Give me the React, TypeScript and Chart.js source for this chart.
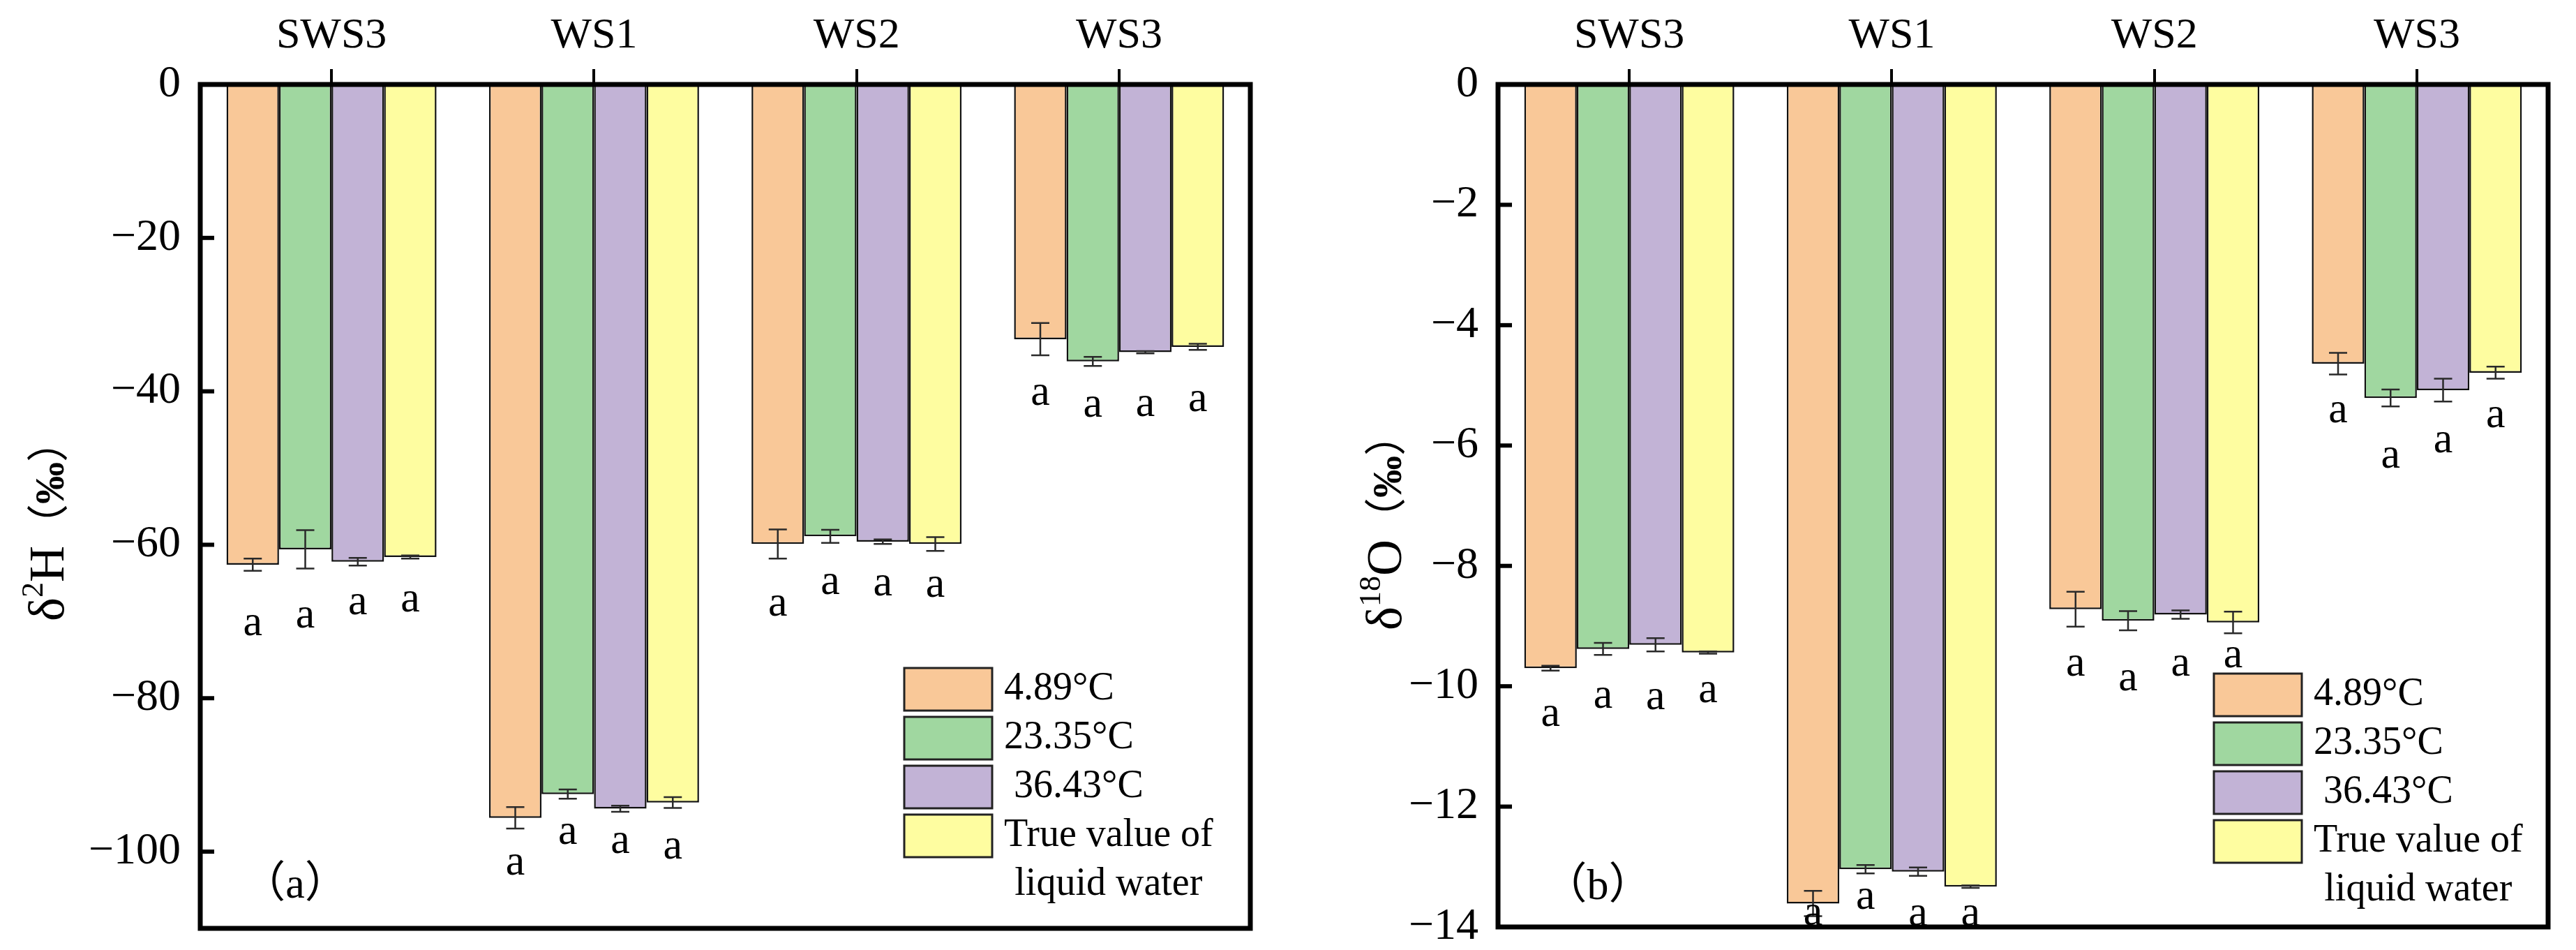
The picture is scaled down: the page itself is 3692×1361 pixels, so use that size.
import React, { useEffect, useRef } from 'react';
import { Chart, registerables } from 'chart.js';

Chart.register(...registerables);

// ---------- data ----------
const categories = ['SWS3', 'WS1', 'WS2', 'WS3'];
const seriesNames = ['4.89°C', '23.35°C', ' 36.43°C', 'True value of\nliquid water'];
const seriesColors = ['#F9C898', '#A0D7A0', '#C2B3D6', '#FEFDA0'];

// δ2H (‰)
const dH_489 = [-62.6, -95.6, -59.9, -33.2];
const dH_2335 = [-60.6, -92.5, -58.9, -36.1];
const dH_3643 = [-62.2, -94.4, -59.6, -34.9];
const dH_true = [-61.6, -93.6, -59.9, -34.2];
const eH_489 = [0.8, 1.4, 1.9, 2.1];
const eH_2335 = [2.5, 0.6, 0.85, 0.6];
const eH_3643 = [0.5, 0.4, 0.3, 0.15];
const eH_true = [0.2, 0.7, 0.9, 0.4];
const letterH_489 = [-70.5, -101.7, -68.0, -40.5];
const letterH_2335 = [-69.5, -97.7, -65.1, -42.0];
const letterH_3643 = [-67.8, -98.9, -65.3, -41.9];
const letterH_true = [-67.4, -99.6, -65.5, -41.3];
const hTickValues = [0, -20, -40, -60, -80, -100];

// δ18O (‰)
const dO_489 = [-9.7, -13.61, -8.72, -4.64];
const dO_2335 = [-9.38, -13.04, -8.91, -5.21];
const dO_3643 = [-9.31, -13.08, -8.81, -5.08];
const dO_true = [-9.44, -13.33, -8.94, -4.79];
const eO_489 = [0.04, 0.21, 0.29, 0.18];
const eO_2335 = [0.1, 0.07, 0.16, 0.14];
const eO_3643 = [0.11, 0.07, 0.07, 0.19];
const eO_true = [0.02, 0.02, 0.18, 0.1];
const letterO_489 = [-10.5, -13.8, -9.66, -5.45];
const letterO_2335 = [-10.19, -13.54, -9.91, -6.2];
const letterO_3643 = [-10.22, -13.82, -9.66, -5.95];
const letterO_true = [-10.1, -13.82, -9.52, -5.53];
const oTickValues = [0, -2, -4, -6, -8, -10, -12, -14];

const letterText = 'a';

const SERIF = '"Liberation Serif", "Times New Roman", serif';
const CJK = '"Liberation Serif", "Noto Sans CJK SC", serif';

type TitleSeg = { text: string; font: string; raise?: number };

type PanelCfg = {
  values: number[][];
  errors: number[][];
  letters: number[][];
  tickValues: number[];
  min: number;
  max: number;
  step: number;
  padding: { left: number; right: number; top: number; bottom: number };
  yWidth: number;
  title: TitleSeg[];
  titleX: number; // canvas x of baseline
  titleY: number; // canvas y of centre
  legendX: number; // from chartArea.left
  legendY: number; // from chartArea.top
  panelLabel: string;
  panelLabelX: number; // from chartArea.left
  panelLabelY: number; // from chartArea.bottom
};

function makeDecor(cfg: PanelCfg) {
  return {
    id: 'panelDecor',
    afterDatasetsDraw(chart: any) {
      const { ctx } = chart;
      const ys = chart.scales.y;
      ctx.save();
      // error bars
      cfg.errors.forEach((errs, i) => {
        const meta = chart.getDatasetMeta(i);
        meta.data.forEach((bar: any, j: number) => {
          const v = cfg.values[i][j];
          const e = errs[j];
          const y1 = ys.getPixelForValue(v - e);
          const y2 = ys.getPixelForValue(v + e);
          ctx.strokeStyle = '#2a2a2a';
          ctx.lineWidth = 2.5;
          ctx.beginPath();
          ctx.moveTo(bar.x, y1);
          ctx.lineTo(bar.x, y2);
          ctx.moveTo(bar.x - 13, y1);
          ctx.lineTo(bar.x + 13, y1);
          ctx.moveTo(bar.x - 13, y2);
          ctx.lineTo(bar.x + 13, y2);
          ctx.stroke();
        });
      });
      // significance letters
      ctx.fillStyle = '#000';
      ctx.font = `62px ${SERIF}`;
      ctx.textAlign = 'center';
      ctx.textBaseline = 'alphabetic';
      cfg.letters.forEach((lets, i) => {
        const meta = chart.getDatasetMeta(i);
        meta.data.forEach((bar: any, j: number) => {
          const y = ys.getPixelForValue(lets[j]);
          ctx.fillText(letterText, bar.x, y + 14);
        });
      });
      ctx.restore();
    },
    afterDraw(chart: any) {
      const { ctx, chartArea: a } = chart;
      const ys = chart.scales.y;
      ctx.save();
      // inward y ticks
      ctx.strokeStyle = '#000';
      ctx.lineWidth = 6;
      cfg.tickValues.forEach((t) => {
        const y = ys.getPixelForValue(t);
        ctx.beginPath();
        ctx.moveTo(a.left, y);
        ctx.lineTo(a.left + 20, y);
        ctx.stroke();
      });
      // frame
      ctx.lineWidth = 7;
      ctx.strokeRect(a.left, a.top, a.right - a.left, a.bottom - a.top);

      // legend
      const bx = a.left + cfg.legendX;
      const by = a.top + cfg.legendY;
      const bw = 126;
      const bh = 61;
      const stepY = 70;
      ctx.font = `56px ${SERIF}`;
      ctx.textBaseline = 'middle';
      seriesNames.forEach((name, i) => {
        const top = by + i * stepY;
        ctx.fillStyle = seriesColors[i];
        ctx.fillRect(bx, top, bw, bh);
        ctx.strokeStyle = '#222';
        ctx.lineWidth = 3;
        ctx.strokeRect(bx, top, bw, bh);
        ctx.fillStyle = '#000';
        const lines = name.split('\n');
        const tx = bx + bw + 17;
        const cy = top + bh / 2;
        if (lines.length === 1) {
          ctx.textAlign = 'left';
          ctx.fillText(lines[0], tx, cy);
        } else {
          const w0 = ctx.measureText(lines[0]).width;
          const cx = tx + w0 / 2;
          ctx.textAlign = 'center';
          lines.forEach((ln, k) => ctx.fillText(ln, cx, cy + k * stepY));
        }
      });

      // panel label
      ctx.font = `62px ${CJK}`;
      ctx.textAlign = 'center';
      ctx.textBaseline = 'middle';
      ctx.fillStyle = '#000';
      ctx.fillText(cfg.panelLabel, a.left + cfg.panelLabelX, a.bottom - cfg.panelLabelY);

      // rotated y title
      ctx.save();
      ctx.translate(cfg.titleX, cfg.titleY);
      ctx.rotate(-Math.PI / 2);
      ctx.textAlign = 'left';
      ctx.textBaseline = 'alphabetic';
      let total = 0;
      const widths = cfg.title.map((s) => {
        ctx.font = s.font;
        const w = ctx.measureText(s.text).width;
        total += w;
        return w;
      });
      let x = -total / 2;
      cfg.title.forEach((s, k) => {
        ctx.font = s.font;
        ctx.fillText(s.text, x, -(s.raise || 0));
        x += widths[k];
      });
      ctx.restore();

      ctx.restore();
    },
  };
}

function buildChart(canvas: HTMLCanvasElement, cfg: PanelCfg) {
  return new Chart(canvas, {
    type: 'bar',
    data: {
      labels: categories,
      datasets: cfg.values.map((vals, i) => ({
        label: seriesNames[i],
        data: vals,
        backgroundColor: seriesColors[i],
        borderColor: '#111',
        borderWidth: 2.5,
        barPercentage: 1,
        categoryPercentage: 0.8,
      })),
    },
    options: {
      animation: false,
      responsive: false,
      devicePixelRatio: 1,
      layout: { padding: cfg.padding },
      plugins: {
        legend: { display: false },
        tooltip: { enabled: false },
      },
      scales: {
        x: {
          type: 'category',
          position: 'top',
          offset: true,
          grid: {
            offset: false,
            drawOnChartArea: false,
            drawTicks: true,
            tickLength: 22,
            lineWidth: 4,
            color: '#000',
          },
          border: { display: false },
          ticks: {
            color: '#000',
            font: { family: SERIF, size: 62 },
            padding: 10,
            maxRotation: 0,
          },
          afterFit: (s: any) => {
            s.height = 121;
            s.paddingLeft = 0;
            s.paddingRight = 0;
          },
        },
        y: {
          type: 'linear',
          min: cfg.min,
          max: cfg.max,
          grid: { display: false, drawTicks: false },
          border: { display: false },
          ticks: {
            stepSize: cfg.step,
            color: '#000',
            font: { family: SERIF, size: 64 },
            padding: 28,
            callback: (v: any) => String(v).replace('-', '\u2212'),
          },
          afterBuildTicks: (s: any) => {
            s.ticks = s.ticks.filter((t: any) => cfg.tickValues.includes(t.value));
          },
          afterFit: (s: any) => {
            s.width = cfg.yWidth;
            s.paddingTop = 0;
            s.paddingBottom = 0;
          },
        },
      },
    } as any,
    plugins: [makeDecor(cfg)],
  });
}

const leftCfg: PanelCfg = {
  values: [dH_489, dH_2335, dH_3643, dH_true],
  errors: [eH_489, eH_2335, eH_3643, eH_true],
  letters: [letterH_489, letterH_2335, letterH_3643, letterH_true],
  tickValues: hTickValues,
  min: -110,
  max: 0,
  step: 20,
  padding: { left: 0, right: 54, top: 0, bottom: 31 },
  yWidth: 287,
  title: [
    { text: 'δ', font: `72px ${SERIF}` },
    { text: '2', font: `44px ${SERIF}`, raise: 30 },
    { text: 'H', font: `72px ${SERIF}` },
    { text: '（', font: `60px ${CJK}` },
    { text: '‰', font: `bold 60px ${SERIF}` },
    { text: '）', font: `60px ${CJK}` },
  ],
  titleX: 91,
  titleY: 746,
  legendX: 1009,
  legendY: 836,
  panelLabel: '（a）',
  panelLabelX: 136,
  panelLabelY: 60,
};

const rightCfg: PanelCfg = {
  values: [dO_489, dO_2335, dO_3643, dO_true],
  errors: [eO_489, eO_2335, eO_3643, eO_true],
  letters: [letterO_489, letterO_2335, letterO_3643, letterO_true],
  tickValues: oTickValues,
  min: -14,
  max: 0,
  step: 2,
  padding: { left: 0, right: 40, top: 0, bottom: 33 },
  yWidth: 301,
  title: [
    { text: 'δ', font: `72px ${SERIF}` },
    { text: '18', font: `44px ${SERIF}`, raise: 30 },
    { text: 'O', font: `72px ${SERIF}` },
    { text: '（', font: `60px ${CJK}` },
    { text: '‰', font: `bold 60px ${SERIF}` },
    { text: '）', font: `60px ${CJK}` },
  ],
  titleX: 162,
  titleY: 748,
  legendX: 1026,
  legendY: 844,
  panelLabel: '（b）',
  panelLabelX: 143,
  panelLabelY: 56,
};

export default function App() {
  const leftRef = useRef<HTMLCanvasElement>(null);
  const rightRef = useRef<HTMLCanvasElement>(null);

  useEffect(() => {
    const c1 = buildChart(leftRef.current!, leftCfg);
    const c2 = buildChart(rightRef.current!, rightCfg);
    return () => {
      c1.destroy();
      c2.destroy();
    };
  }, []);

  return (
    <div
      style={{
        position: 'absolute',
        left: 0,
        top: 0,
        width: 3692,
        height: 1361,
        background: '#fff',
        overflow: 'hidden',
      }}
    >
      <canvas
        ref={leftRef}
        width={1846}
        height={1361}
        style={{ position: 'absolute', left: 0, top: 0, width: 1846, height: 1361 }}
      />
      <canvas
        ref={rightRef}
        width={1846}
        height={1361}
        style={{ position: 'absolute', left: 1846, top: 0, width: 1846, height: 1361 }}
      />
    </div>
  );
}
